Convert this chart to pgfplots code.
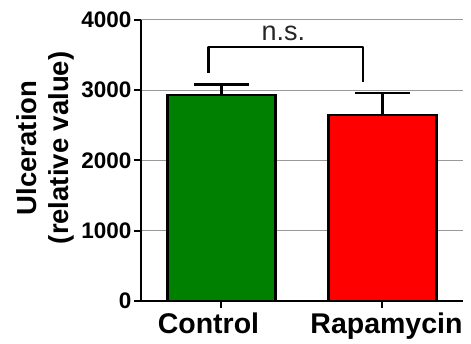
\documentclass[border=0pt]{standalone}
\usepackage{pgfplots}
\pgfplotsset{compat=1.18}
\usepackage{fontspec}
\setmainfont{Liberation Sans}
\definecolor{bargreen}{RGB}{0,128,0}
\definecolor{barred}{RGB}{255,0,0}
\begin{document}
\begin{tikzpicture}
\useasboundingbox (-141pt,-42pt) rectangle (330pt,301pt);
\begin{axis}[
  at={(0pt,0pt)}, anchor=south west,
  scale only axis, width=322pt, height=281pt,
  xmin=-0.5, xmax=1.5, ymin=0, ymax=4000,
  axis x line*=bottom, axis y line*=left,
  axis line style={line width=2.5pt, -},
  xtick={0,1}, xticklabels={\hspace*{-26pt}Control,\hspace*{8pt}Rapamycin},
  ytick={0,1000,2000,3000,4000},
  ymajorgrids, grid style={black!40, line width=1pt},
  tick style={black, line width=2pt},
  major tick length=7pt,
  tick align=outside,
  /pgf/number format/assume math mode=true,
  /pgf/number format/1000 sep={},
  scaled y ticks=false,
  yticklabel style={font=\fontsize{22.5}{26}\selectfont\bfseries, xshift=1pt},
  xticklabel style={font=\fontsize{28.5}{32}\selectfont\bfseries, yshift=-1pt},
  ylabel={Ulceration\\(relative value)},
  ylabel style={at={(axis description cs:-0.297,0.545)}, anchor=center, align=center, font=\fontsize{27.5}{31.5}\selectfont\bfseries},
  clip=false,
]
\addplot[ybar, bar shift=0pt, bar width=108pt, fill=bargreen, draw=black, line width=2.5pt,
  error bars/.cd, y dir=plus, y explicit, error mark=|,
  error bar style={line width=2.5pt, black},
  error mark options={line width=2.5pt, black, mark size=27pt}]
  coordinates {(0,2932) +- (0,147)};
\addplot[ybar, bar shift=0pt, bar width=108pt, fill=barred, draw=black, line width=2.5pt,
  error bars/.cd, y dir=plus, y explicit, error mark=|,
  error bar style={line width=2.5pt, black},
  error mark options={line width=2.5pt, black, mark size=27pt}]
  coordinates {(1,2648) +- (0,313)};
\addplot[black, line width=2.5pt, sharp plot, mark=none, line join=round]
  coordinates {(-0.08,3246) (-0.08,3616) (0.88,3616) (0.88,3117)};
\node[font=\fontsize{27}{30}\selectfont, text=black!85] at (axis cs:0.385,3815) {n.s.};
\end{axis}
\end{tikzpicture}
\end{document}
